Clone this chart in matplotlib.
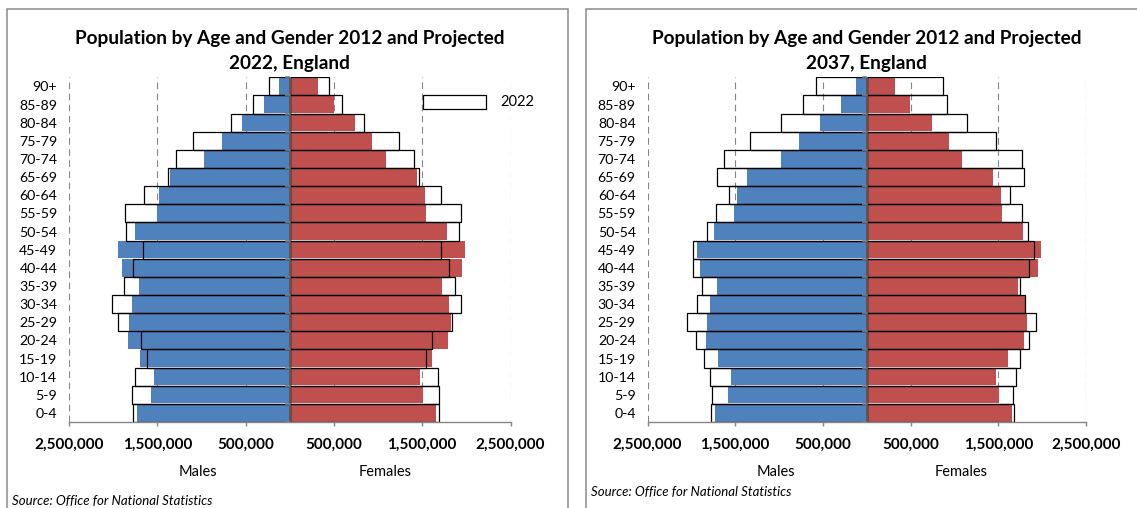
import matplotlib
matplotlib.use("Agg")
import matplotlib.pyplot as plt
from matplotlib.patches import Patch, Rectangle
from matplotlib.ticker import FuncFormatter
import numpy as np

plt.rcParams["font.family"] = ["Lato", "DejaVu Sans"]

# Age bands, youngest first (bottom of the pyramid)
ages = ["0-4", "5-9", "10-14", "15-19", "20-24", "25-29", "30-34", "35-39",
        "40-44", "45-49", "50-54", "55-59", "60-64", "65-69", "70-74",
        "75-79", "80-84", "85-89", "90+"]

# Population in thousands
males_2012 = [1735, 1577, 1543, 1691, 1832, 1826, 1792, 1707, 1905, 1940,
              1747, 1508, 1480, 1361, 974, 771, 538, 292, 121]
females_2012 = [1652, 1510, 1470, 1607, 1788, 1830, 1802, 1721, 1948, 1982,
                1778, 1539, 1533, 1437, 1085, 937, 743, 498, 322]
males_2022 = [1773, 1789, 1757, 1619, 1688, 1943, 2012, 1874, 1773, 1660,
              1854, 1870, 1648, 1376, 1287, 1093, 664, 413, 235]
females_2022 = [1688, 1688, 1680, 1538, 1611, 1840, 1939, 1870, 1805, 1712,
                1919, 1935, 1708, 1465, 1409, 1234, 842, 595, 445]
males_2037 = [1775, 1763, 1791, 1852, 1949, 2050, 1933, 1876, 1977, 1977,
              1819, 1722, 1576, 1706, 1633, 1333, 976, 725, 579]
females_2037 = [1682, 1669, 1698, 1742, 1852, 1925, 1803, 1750, 1852, 1908,
                1840, 1771, 1637, 1795, 1771, 1479, 1143, 916, 871]

x_ticks = [-2500000, -1500000, -500000, 500000, 1500000, 2500000]
source_text = "Source: Office for National Statistics"

BLUE = "#4F81BD"
RED = "#C0504D"
GRID = "#868686"

W, H = 1137, 508
fig = plt.figure(figsize=(W / 100, H / 100), dpi=100)


def fx(px):
    return px / W


def fy(py):
    return 1 - py / H


panels = [
    dict(box=(7, 568), plot=(69, 510.5), year="2022", males=males_2022,
         females=females_2022, legend=True, source_y=501.5, source_x=12),
    dict(box=(586, 1200), plot=(647.5, 1086), year="2037", males=males_2037,
         females=females_2037, legend=False, source_y=492, source_x=591),
]

PLOT_TOP, PLOT_BOTTOM = 77.3, 422

for p in panels:
    bx0, bx1 = p["box"]
    fig.add_artist(Rectangle((fx(bx0), -0.1), fx(bx1 - bx0), fy(9) + 0.1,
                             transform=fig.transFigure, fill=False,
                             edgecolor="#8c8c8c", linewidth=1.1))

    l, r = p["plot"]
    ax = fig.add_axes([fx(l), fy(PLOT_BOTTOM), fx(r - l),
                       (PLOT_BOTTOM - PLOT_TOP) / H])
    y = np.arange(len(ages))
    m12 = np.array(males_2012) * 1000
    f12 = np.array(females_2012) * 1000
    mp = np.array(p["males"]) * 1000
    fp = np.array(p["females"]) * 1000

    ax.barh(y, -m12, height=0.96, color=BLUE, linewidth=0, zorder=2)
    ax.barh(y, f12, height=0.96, color=RED, linewidth=0, zorder=2)
    ax.barh(y, -mp, height=1.0, fill=False, edgecolor="black",
            linewidth=0.9, zorder=3)
    ax.barh(y, fp, height=1.0, fill=False, edgecolor="black",
            linewidth=0.9, zorder=3)

    for t in x_ticks:
        ax.axvline(t, color=GRID, linewidth=0.8, linestyle=(0, (6, 4)),
                   zorder=1)
    ax.axvline(0, color="#595959", linewidth=1.4, zorder=4)
    bounds = np.arange(len(ages) + 1) - 0.5
    ax.plot(np.zeros_like(bounds), bounds, linestyle="none", marker=0,
            markersize=3.5, markeredgewidth=1.2, color="#808080", zorder=4,
            clip_on=False)

    ax.set_xlim(-2500000, 2500000)
    ax.set_ylim(-0.5, len(ages) - 0.5)
    ax.set_xticks(x_ticks)
    ax.xaxis.set_major_formatter(FuncFormatter(lambda v, _: f"{abs(v):,.0f}"))
    ax.set_yticks(y, ages)

    for side in ("top", "right", "left"):
        ax.spines[side].set_visible(False)
    ax.spines["bottom"].set_color(GRID)
    ax.spines["bottom"].set_linewidth(1.0)
    ax.spines["bottom"].set_zorder(5)

    ax.tick_params(axis="x", direction="out", length=3, color=GRID,
                   width=1.0, pad=8.5, labelsize=11)
    for lbl in ax.get_xticklabels():
        lbl.set_fontweight("bold")
    ax.tick_params(axis="y", length=0, pad=8.5, labelsize=10.2)

    yt = (PLOT_BOTTOM - 471.7) / (PLOT_BOTTOM - PLOT_TOP)
    ax.text(-1040000, yt, "Males", transform=ax.get_xaxis_transform(),
            ha="center", va="center", fontsize=10.5)
    ax.text(1080000, yt, "Females", transform=ax.get_xaxis_transform(),
            ha="center", va="center", fontsize=10.5)

    cx = (l + r) / 2
    fig.text(fx(cx), fy(51),
             f"Population by Age and Gender 2012 and Projected\n{p['year']}, England",
             ha="center", va="center", fontsize=13.7, fontweight="bold",
             linespacing=1.6)

    fig.text(fx(p["source_x"]), fy(p["source_y"]), source_text,
             ha="left", va="center", fontsize=9.5, style="italic")

    if p["legend"]:
        fs = 10.5
        em = fs * 100 / 72
        ax.legend(handles=[Patch(facecolor="white", edgecolor="black",
                                 linewidth=0.9, label=p["year"])],
                  loc="center left", bbox_to_anchor=(fx(423), fy(102)),
                  bbox_transform=fig.transFigure, frameon=False,
                  borderpad=0, borderaxespad=0, fontsize=fs,
                  handlelength=63 / em, handleheight=16 / em,
                  handletextpad=14 / em)

fig.savefig("out.png", dpi=100)
